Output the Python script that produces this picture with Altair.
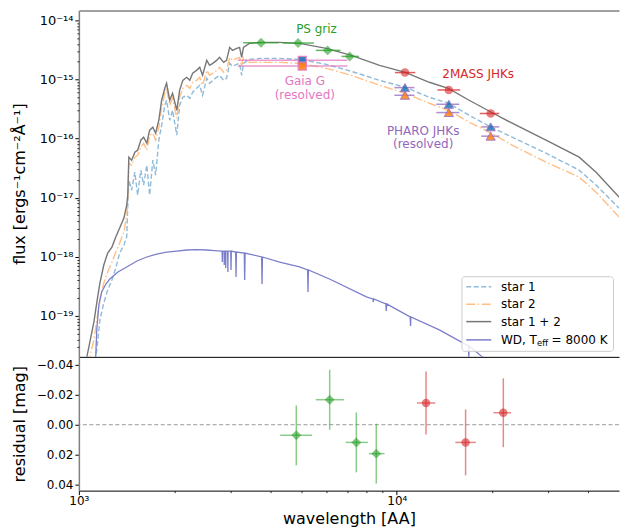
import altair as alt
import numpy as np
import pandas as pd

# ---------------- model spectra ----------------
# common wavelength grid for the two stars, log10(wavelength / AA)
star_log_wave = [3.181, 3.190, 3.198, 3.210, 3.218, 3.227, 3.238, 3.249, 3.261, 3.272,
                 3.283, 3.295, 3.303, 3.306, 3.309, 3.317, 3.326, 3.334, 3.343, 3.351,
                 3.360, 3.368, 3.377, 3.385, 3.394, 3.402, 3.411, 3.416, 3.425, 3.433,
                 3.445, 3.453, 3.462, 3.473, 3.482, 3.490, 3.501, 3.510, 3.518, 3.530,
                 3.538, 3.547, 3.558, 3.566, 3.578, 3.586, 3.595, 3.603, 3.615, 3.623,
                 3.629, 3.634, 3.651, 3.680, 3.736, 3.793, 3.869, 3.940, 4.020, 4.093,
                 4.161, 4.215, 4.274, 4.337, 4.396, 4.492, 4.586, 4.634, 4.699]
# log10(flux)
star12_log_flux = [-19.997, -19.693, -19.456, -19.101, -18.781, -18.443, -18.139, -17.936, -17.835, -17.666,
                   -17.514, -17.345, -17.125, -16.956, -16.314, -16.365, -16.230, -16.196, -16.027, -15.976,
                   -16.078, -15.858, -15.808, -15.909, -15.689, -15.351, -15.149, -15.064, -15.351, -15.233,
                   -15.520, -15.183, -15.014, -14.963, -15.014, -14.895, -14.845, -14.794, -14.929, -14.676,
                   -14.760, -14.726, -14.676, -14.625, -14.710, -14.676, -14.456, -14.507, -14.473, -14.456,
                   -14.625, -14.456, -14.389, -14.372, -14.372, -14.389, -14.473, -14.591, -14.760, -14.878,
                   -15.047, -15.149, -15.351, -15.554, -15.740, -16.027, -16.314, -16.568, -16.990]
star1_log_flux = [-20.757, -20.419, -20.166, -19.828, -19.574, -19.068, -18.781, -18.561, -18.392, -18.189,
                  -17.936, -17.801, -17.666, -17.125, -16.703, -16.872, -16.568, -16.956, -16.534, -16.787,
                  -16.449, -16.956, -16.365, -16.618, -16.027, -15.774, -15.436, -15.351, -15.689, -15.520,
                  -15.943, -15.436, -15.301, -15.267, -15.317, -15.216, -15.149, -15.098, -15.267, -14.980,
                  -15.064, -15.014, -14.963, -14.929, -15.014, -14.980, -14.726, -14.777, -14.743, -14.726,
                  -14.929, -14.726, -14.659, -14.642, -14.642, -14.659, -14.743, -14.862, -15.014, -15.132,
                  -15.301, -15.402, -15.605, -15.808, -15.976, -16.247, -16.534, -16.787, -17.176]
star2_log_flux = [-20.335, -19.946, -19.693, -19.406, -19.068, -18.730, -18.443, -18.257, -18.088, -17.919,
                  -17.767, -17.581, -17.294, -17.041, -16.416, -16.449, -16.314, -16.281, -16.145, -16.078,
                  -16.196, -15.943, -15.909, -16.027, -15.808, -15.470, -15.233, -15.149, -15.436, -15.317,
                  -15.656, -15.301, -15.149, -15.098, -15.149, -15.047, -15.014, -14.963, -15.098, -14.845,
                  -14.929, -14.895, -14.845, -14.794, -14.878, -14.845, -14.625, -14.676, -14.642, -14.625,
                  -14.777, -14.625, -14.710, -14.710, -14.710, -14.726, -14.811, -14.929, -15.098, -15.233,
                  -15.402, -15.520, -15.723, -15.909, -16.111, -16.399, -16.652, -16.906, -17.328]

# white dwarf model (wavelength in AA, log10 flux)
wd_wave = [1633, 1641, 1652, 1675, 1706, 1754, 1799, 1897, 2009, 2148,
           2291, 2443, 2606, 2786, 2972, 3170, 3388, 3565, 3733, 3745,
           3750, 3755, 3793, 3798, 3803, 3830, 3835, 3840, 3883, 3889,
           3895, 3962, 3970, 3978, 4092, 4102, 4112, 4328, 4340, 4352,
           4848, 4861, 4874, 5451, 6209, 6546, 6563, 6580, 7551, 9610,
           10025, 10049, 10073, 10912, 10938, 10964, 12788, 12818, 12848, 15467,
           18706, 18751, 18796, 20480, 22875]
wd_log_flux = [-20.081, -19.693, -19.237, -18.814, -18.595, -18.460, -18.375, -18.257, -18.172, -18.071,
               -18.003, -17.953, -17.919, -17.902, -17.885, -17.877, -17.885, -17.894, -17.902, -17.902,
               -18.088, -17.902, -17.902, -18.139, -17.902, -17.902, -18.189, -17.902, -17.902, -18.257,
               -17.902, -17.902, -18.223, -17.902, -17.919, -18.341, -17.919, -17.936, -18.392, -17.936,
               -18.003, -18.460, -18.003, -18.088, -18.172, -18.223, -18.595, -18.223, -18.375, -18.679,
               -18.713, -18.764, -18.713, -18.797, -18.916, -18.797, -19.017, -19.169, -19.017, -19.237,
               -19.507, -19.710, -19.507, -19.693, -19.862]

# ---------------- photometry ----------------
ps_wave = [4830, 6150, 7460, 8620]
ps_wave_lo = [4298, 5561, 6906, 8170]
ps_wave_hi = [5414, 6823, 8111, 9151]
ps_flux = [4.20e-15, 4.14e-15, 3.11e-15, 2.46e-15]
ps_resid = [0.0071, -0.0167, 0.0118, 0.0193]
ps_resid_err = [0.020, 0.020, 0.020, 0.020]

tm_wave = [12360, 16460, 21630]
tm_wave_lo = [11577, 15276, 20144]
tm_wave_hi = [13222, 17727, 22882]
tm_flux = [1.31e-15, 6.65e-16, 2.66e-16]
tm_resid = [-0.0145, 0.0118, -0.0080]
tm_resid_err = [0.021, 0.022, 0.023]

pharo_wave = [12360, 16460, 21630]
pharo_wave_lo = [11535, 15165, 20340]
pharo_wave_hi = [13146, 17620, 22875]
pharo_flux_star1 = [7.29e-16, 3.81e-16, 1.58e-16]
pharo_flux_star2 = [5.41e-16, 2.76e-16, 1.10e-16]

gaia_wave = [6320]
gaia_wave_lo = [4145]
gaia_wave_hi = [8492]
gaia_flux_star1 = [2.11e-15]
gaia_flux_star2 = [1.69e-15]

legend_labels = ["star 1", "star 2", "star 1 + 2"]

# ---------------- styling ----------------
C_S1 = "#8fbbd9"
C_S2 = "#ffbf86"
C_S12 = "#777777"
C_WD = "#7b7fc9"
C_PS = "#2ca02c"
C_TM = "#d62728"
C_PH = "#9467bd"
C_GA = "#e377c2"
C_B = "#1f77b4"
C_O = "#ff7f0e"
DASH_S1 = [5, 2.5]
DASH_S2 = [9, 2.5, 1.5, 2.5]

X_TOP = alt.Scale(type="log", domain=[1470, 50000])
Y_TOP = alt.Scale(type="log", domain=[2.03e-20, 1.476e-14])
X_RES = alt.Scale(type="log", domain=[1000, 50000])
Y_RES = alt.Scale(domain=[-0.0453, 0.044], reverse=True)

sup = str.maketrans("-0123456789", "⁻⁰¹²³⁴⁵⁶⁷⁸⁹")
y_major = [10.0 ** e for e in range(-19, -13)]
y_expr = " : ".join(f"datum.value < {1.5 * 10.0 ** e:.2e} ? '10{str(e).translate(sup)}'"
                    for e in range(-19, -14)) + f" : '10{str(-14).translate(sup)}'"
y_minor = [k * 10.0 ** e for e in range(-20, -14) for k in range(2, 10)
           if 2.03e-20 < k * 10.0 ** e < 1.476e-14]
x_minor = [k * 10 ** e for e in (3, 4) for k in range(2, 10) if k * 10 ** e < 50000]

AX_Y_MAJOR = alt.Axis(values=y_major, labelExpr=y_expr, orient="left",
                      title="flux [ergs⁻¹cm⁻²Å⁻¹]", titleX=-59, titleBaseline="middle",
                      titleAngle=-90, domainColor="#808080", domainWidth=1.5,
                      tickSize=4, tickWidth=1, labelPadding=2, labelFontSize=13)
AX_Y_MINOR = alt.Axis(values=y_minor, orient="left", labels=False, domain=False,
                      tickSize=2, tickWidth=0.8, title=None)
AX_X_BOTTOM = alt.Axis(orient="bottom", labels=False, ticks=False, domainColor="black",
                       domainWidth=1, title=None)
AX_X_TOP = alt.Axis(orient="top", labels=False, ticks=False, domainColor="#808080",
                    domainWidth=1.5, title=None)

# ---------------- data frames ----------------
spec = pd.DataFrame({
    "wave": 10 ** np.array(star_log_wave),
    "s1": 10 ** np.array(star1_log_flux),
    "s2": 10 ** np.array(star2_log_flux),
    "s12": 10 ** np.array(star12_log_flux),
})
wd = pd.DataFrame({"wave": wd_wave, "flux": 10 ** np.array(wd_log_flux)})
ps = pd.DataFrame({"wave": ps_wave, "lo": ps_wave_lo, "hi": ps_wave_hi, "flux": ps_flux,
                   "r": ps_resid,
                   "rlo": np.array(ps_resid) - np.array(ps_resid_err),
                   "rhi": np.array(ps_resid) + np.array(ps_resid_err)})
tm = pd.DataFrame({"wave": tm_wave, "lo": tm_wave_lo, "hi": tm_wave_hi, "flux": tm_flux,
                   "r": tm_resid,
                   "rlo": np.array(tm_resid) - np.array(tm_resid_err),
                   "rhi": np.array(tm_resid) + np.array(tm_resid_err)})
ph = pd.DataFrame({"wave": pharo_wave, "lo": pharo_wave_lo, "hi": pharo_wave_hi,
                   "f1": pharo_flux_star1, "f2": pharo_flux_star2})
ga = pd.DataFrame({"wave": gaia_wave, "lo": gaia_wave_lo, "hi": gaia_wave_hi,
                   "f1": gaia_flux_star1, "f2": gaia_flux_star2})


def xt(f, axis=None):
    return alt.X(f, type="quantitative", scale=X_TOP, axis=axis)


def yt(f, axis=None):
    return alt.Y(f, type="quantitative", scale=Y_TOP, axis=axis)


# ---------------- top panel ----------------
l_s1 = alt.Chart(spec).mark_line(clip=True, color=C_S1, strokeDash=DASH_S1, strokeWidth=1.4).encode(
    x=xt("wave", AX_X_BOTTOM), y=yt("s1", AX_Y_MAJOR))
l_s2 = alt.Chart(spec).mark_line(clip=True, color=C_S2, strokeDash=DASH_S2, strokeWidth=1.4).encode(
    x=xt("wave"), y=yt("s2"))
l_s12 = alt.Chart(spec).mark_line(clip=True, color=C_S12, strokeWidth=1.4).encode(
    x=xt("wave"), y=yt("s12"))
l_wd = alt.Chart(wd).mark_line(clip=True, color=C_WD, strokeWidth=1.3).encode(
    x=xt("wave", AX_X_TOP), y=yt("flux", AX_Y_MINOR))

bars = []
for df, col, ycol in [(ga, C_GA, "f1"), (ga, C_GA, "f2"), (ph, C_PH, "f1"), (ph, C_PH, "f2"),
                      (ps, C_PS, "flux"), (tm, C_TM, "flux")]:
    bars.append(alt.Chart(df).mark_rule(color=col, opacity=0.75, strokeWidth=1.5).encode(
        x=xt("lo"), x2="hi:Q", y=yt(ycol)))

pts = [
    alt.Chart(ga).mark_point(shape="square", filled=True, size=64, fill=C_B, stroke=C_GA,
                             strokeWidth=1.2, opacity=0.9).encode(x=xt("wave"), y=yt("f1")),
    alt.Chart(ga).mark_point(shape="square", filled=True, size=64, fill=C_O, stroke=C_GA,
                             strokeWidth=1.2, opacity=0.9).encode(x=xt("wave"), y=yt("f2")),
    alt.Chart(ph).mark_point(shape="triangle-up", filled=True, size=85, fill=C_B, stroke=C_PH,
                             strokeWidth=1, opacity=0.85).encode(x=xt("wave"), y=yt("f1")),
    alt.Chart(ph).mark_point(shape="triangle-up", filled=True, size=85, fill=C_O, stroke=C_PH,
                             strokeWidth=1, opacity=0.85).encode(x=xt("wave"), y=yt("f2")),
    alt.Chart(ps).mark_point(shape="diamond", filled=True, size=100, color=C_PS,
                             opacity=0.6).encode(x=xt("wave"), y=yt("flux")),
    alt.Chart(tm).mark_point(shape="circle", filled=True, size=72, color=C_TM,
                             opacity=0.6).encode(x=xt("wave"), y=yt("flux")),
]

annot = pd.DataFrame({
    "text": ["PS griz", "2MASS JHKs", "Gaia G", "(resolved)", "PHARO JHKs", "(resolved)"],
    "wave": [6937, 19940, 6427, 6427, 13920, 13920],
    "flux": [7.05e-15, 1.225e-15, 9.33e-16, 5.41e-16, 1.333e-16, 7.95e-17],
    "col": [C_PS, C_TM, C_GA, C_GA, C_PH, C_PH],
})
texts = alt.Chart(annot).mark_text(fontSize=12, align="center", baseline="middle").encode(
    x=xt("wave"), y=yt("flux"), text="text:N", color=alt.Color("col:N", scale=None))

# manual legend (matplotlib-like box)
one = pd.DataFrame({"a": [0]})
leg = [alt.Chart(one).mark_rect(fill="white", fillOpacity=0.85, stroke="#cccccc", strokeWidth=1,
                                cornerRadius=3).encode(
    x=alt.value(383.7), x2=alt.value(535.5), y=alt.value(266.7), y2=alt.value(341.5))]
rows = [276.7, 294.3, 311.7, 330.0]
styles = [(C_S1, DASH_S1), (C_S2, DASH_S2), (C_S12, None), (C_WD, None)]
for i, (c, d) in enumerate(styles):
    kw = dict(color=c, strokeWidth=1.5)
    if d is not None:
        kw["strokeDash"] = d
    leg.append(alt.Chart(one).mark_rule(**kw).encode(
        x=alt.value(388), x2=alt.value(413), y=alt.value(rows[i])))
for i, lab in enumerate(legend_labels):
    leg.append(alt.Chart(one).mark_text(text=lab, fontSize=12, align="left", baseline="middle").encode(
        x=alt.value(422.7), y=alt.value(rows[i])))
leg.append(alt.Chart(one).mark_text(text="WD, T", fontSize=12, align="left", baseline="middle").encode(
    x=alt.value(422.7), y=alt.value(rows[3])))
leg.append(alt.Chart(one).mark_text(text="eff", fontSize=8.5, align="left", baseline="middle").encode(
    x=alt.value(458.8), y=alt.value(rows[3] + 3.5)))
leg.append(alt.Chart(one).mark_text(text="= 8000 K", fontSize=12, align="left", baseline="middle").encode(
    x=alt.value(473.5), y=alt.value(rows[3])))

top = alt.layer(l_s1, l_s2, l_s12, l_wd, *bars, *pts, texts, *leg).resolve_axis(
    x="independent", y="independent").properties(width=541, height=347)


# ---------------- residual panel ----------------
def xr(f, axis=None):
    return alt.X(f, type="quantitative", scale=X_RES, axis=axis)


def yr(f, axis=None):
    return alt.Y(f, type="quantitative", scale=Y_RES, axis=axis)


AX_XR = alt.Axis(values=[1000, 10000], labelExpr="datum.value < 5000 ? '10³' : '10⁴'",
                 orient="bottom", title="wavelength [AA]", titleY=28, titleBaseline="middle",
                 domainColor="black", domainWidth=1, tickSize=4, tickWidth=1,
                 labelPadding=1, labelFontSize=12, labelFlush=False)
AX_XR_MINOR = alt.Axis(values=x_minor, orient="bottom", labels=False, domain=False,
                       tickSize=2, tickWidth=0.8, title=None)
AX_YR = alt.Axis(values=[-0.04, -0.02, 0.0, 0.02, 0.04],
                 labelExpr="replace(format(datum.value, '.2f'), '-', '−')", orient="left",
                 title="residual [mag]", titleX=-59, titleBaseline="middle", titleAngle=-90,
                 domainColor="#808080", domainWidth=1.5, tickSize=4, tickWidth=1,
                 labelPadding=2, labelFontSize=12)

zero = alt.Chart(pd.DataFrame({"r": [0.0]})).mark_rule(color="#808080", strokeDash=[4, 2.5],
                                                      strokeWidth=0.8).encode(y=yr("r", AX_YR))
res_layers = [zero]
for df, col, shape, size, first in [(ps, C_PS, "diamond", 100, True), (tm, C_TM, "circle", 72, False)]:
    res_layers.append(alt.Chart(df).mark_rule(color=col, opacity=0.55, strokeWidth=1.5).encode(
        x=xr("lo", AX_XR if first else None), x2="hi:Q", y=yr("r")))
    res_layers.append(alt.Chart(df).mark_rule(color=col, opacity=0.55, strokeWidth=1.5).encode(
        x=xr("wave", AX_XR_MINOR if first else None), y=yr("rlo"), y2="rhi:Q"))
    res_layers.append(alt.Chart(df).mark_point(shape=shape, filled=True, size=size, color=col,
                                               opacity=0.6).encode(x=xr("wave"), y=yr("r")))

bottom = alt.layer(*res_layers).resolve_axis(x="independent", y="independent").properties(
    width=541, height=134)

chart = alt.vconcat(top, bottom, spacing=0).properties(
    padding={"left": 12, "top": 10, "right": 0, "bottom": 0}
).configure_view(stroke=None).configure_axis(
    labelFont="DejaVu Sans", titleFont="DejaVu Sans", labelColor="black", titleColor="black",
    tickColor="black", grid=False, titleFontWeight="normal", titleFontSize=16
).configure_text(font="DejaVu Sans")

chart.save("out.html", embed_options={"renderer": "svg", "actions": False})
